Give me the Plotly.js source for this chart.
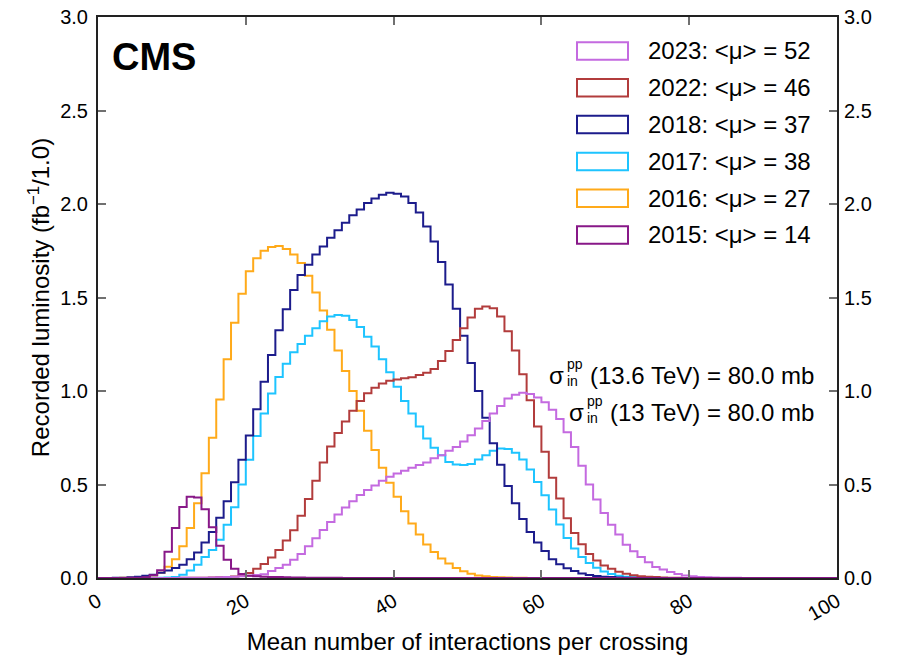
<!DOCTYPE html>
<html>
<head>
<meta charset="utf-8">
<script src="https://cdn.plot.ly/plotly-3.0.1.min.js"></script>
<style>
  html, body { margin: 0; padding: 0; background: #ffffff; }
  #chart { width: 897px; height: 655px; }
</style>
</head>
<body>
<div id="chart"></div>
<script>
// Recorded luminosity (fb^-1) per pileup bin [mu, mu+1), mu = 0 .. 99
const lumi2015 = [
  0, 0, 0, 0.0005, 0.001, 0.002, 0.004, 0.015, 0.042, 0.14,
  0.267, 0.38, 0.434, 0.43, 0.368, 0.272, 0.172, 0.097, 0.05, 0.022,
  0.012, 0.009, 0.007, 0.006, 0.005, 0.004, 0.003, 0.003, 0.002, 0.002,
  0.001, 0.001, 0.001, 0.0005, 0.0005, 0, 0, 0, 0, 0,
  0, 0, 0, 0, 0, 0, 0, 0, 0, 0,
  0, 0, 0, 0, 0, 0, 0, 0, 0, 0,
  0, 0, 0, 0, 0, 0, 0, 0, 0, 0,
  0, 0, 0, 0, 0, 0, 0, 0, 0, 0,
  0, 0, 0, 0, 0, 0, 0, 0, 0, 0,
  0, 0, 0, 0, 0, 0, 0, 0, 0, 0
];
const lumi2016 = [
  0, 0, 0.0005, 0.001, 0.002, 0.004, 0.007, 0.013, 0.028, 0.06,
  0.10, 0.17, 0.267, 0.40, 0.56, 0.75, 0.955, 1.17, 1.365, 1.52,
  1.64, 1.71, 1.75, 1.77, 1.775, 1.76, 1.73, 1.684, 1.616, 1.527,
  1.43, 1.327, 1.216, 1.107, 1.0, 0.895, 0.787, 0.684, 0.59, 0.51,
  0.435, 0.357, 0.291, 0.232, 0.179, 0.139, 0.104, 0.077, 0.054, 0.036,
  0.023, 0.014, 0.009, 0.006, 0.004, 0.003, 0.002, 0.001, 0.0005, 0,
  0, 0, 0, 0, 0, 0, 0, 0, 0, 0,
  0, 0, 0, 0, 0, 0, 0, 0, 0, 0,
  0, 0, 0, 0, 0, 0, 0, 0, 0, 0,
  0, 0, 0, 0, 0, 0, 0, 0, 0, 0
];
const lumi2017 = [
  0, 0, 0, 0, 0, 0, 0, 0.001, 0.002, 0.003,
  0.005, 0.018, 0.04, 0.071, 0.112, 0.15, 0.205, 0.285, 0.378, 0.50,
  0.633, 0.76, 0.88, 0.986, 1.075, 1.146, 1.207, 1.252, 1.295, 1.335,
  1.373, 1.398, 1.407, 1.403, 1.38, 1.342, 1.29, 1.238, 1.17, 1.10,
  1.023, 0.946, 0.88, 0.81, 0.746, 0.696, 0.657, 0.62, 0.607, 0.604,
  0.61, 0.634, 0.657, 0.68, 0.693, 0.69, 0.67, 0.634, 0.58, 0.514,
  0.443, 0.366, 0.286, 0.214, 0.158, 0.112, 0.08, 0.055, 0.035, 0.021,
  0.012, 0.007, 0.004, 0.002, 0.001, 0.0005, 0, 0, 0, 0,
  0, 0, 0, 0, 0, 0, 0, 0, 0, 0,
  0, 0, 0, 0, 0, 0, 0, 0, 0, 0
];
const lumi2018 = [
  0, 0.0005, 0.001, 0.002, 0.004, 0.007, 0.012, 0.018, 0.028, 0.04,
  0.053, 0.071, 0.10, 0.137, 0.19, 0.246, 0.322, 0.41, 0.512, 0.632,
  0.762, 0.903, 1.05, 1.193, 1.325, 1.437, 1.54, 1.62, 1.675, 1.73,
  1.773, 1.82, 1.86, 1.90, 1.94, 1.97, 2.005, 2.03, 2.05, 2.06,
  2.055, 2.04, 2.005, 1.955, 1.88, 1.80, 1.69, 1.57, 1.44, 1.295,
  1.15, 1.00, 0.857, 0.72, 0.605, 0.492, 0.40, 0.316, 0.246, 0.19,
  0.144, 0.10, 0.073, 0.052, 0.037, 0.024, 0.016, 0.011, 0.007, 0.005,
  0.003, 0.002, 0.001, 0.0005, 0, 0, 0, 0, 0, 0,
  0, 0, 0, 0, 0, 0, 0, 0, 0, 0,
  0, 0, 0, 0, 0, 0, 0, 0, 0, 0
];
const lumi2022 = [
  0, 0, 0, 0, 0, 0, 0, 0, 0, 0,
  0.0005, 0.001, 0.001, 0.002, 0.002, 0.003, 0.004, 0.006, 0.008, 0.012,
  0.027, 0.05, 0.075, 0.11, 0.15, 0.20, 0.255, 0.333, 0.423, 0.52,
  0.617, 0.703, 0.775, 0.837, 0.895, 0.946, 0.988, 1.018, 1.04, 1.055,
  1.062, 1.068, 1.073, 1.086, 1.098, 1.118, 1.16, 1.214, 1.273, 1.336,
  1.393, 1.44, 1.452, 1.443, 1.398, 1.32, 1.216, 1.09, 0.95, 0.81,
  0.675, 0.536, 0.425, 0.32, 0.24, 0.18, 0.128, 0.094, 0.067, 0.049,
  0.034, 0.023, 0.015, 0.01, 0.007, 0.005, 0.003, 0.002, 0.001, 0.0005,
  0, 0, 0, 0, 0, 0, 0, 0, 0, 0,
  0, 0, 0, 0, 0, 0, 0, 0, 0, 0
];
const lumi2023 = [
  0, 0, 0, 0, 0, 0, 0, 0, 0, 0,
  0.0005, 0.001, 0.001, 0.002, 0.002, 0.003, 0.004, 0.005, 0.007, 0.009,
  0.012, 0.016, 0.02, 0.038, 0.053, 0.071, 0.098, 0.128, 0.17, 0.213,
  0.257, 0.30, 0.34, 0.377, 0.41, 0.444, 0.47, 0.495, 0.52, 0.541,
  0.559, 0.573, 0.589, 0.604, 0.618, 0.64, 0.657, 0.68, 0.70, 0.73,
  0.764, 0.80, 0.84, 0.88, 0.92, 0.96, 0.98, 0.99, 0.984, 0.965,
  0.94, 0.90, 0.85, 0.78, 0.70, 0.60, 0.50, 0.42, 0.348, 0.285,
  0.232, 0.178, 0.143, 0.112, 0.084, 0.059, 0.045, 0.032, 0.021, 0.014,
  0.009, 0.006, 0.004, 0.003, 0.002, 0.001, 0.001, 0.0005, 0.0005, 0,
  0, 0, 0, 0, 0, 0, 0, 0, 0, 0
];

const seriesYears = ['2023', '2022', '2018', '2017', '2016', '2015'];
const seriesMeanPileup = ['52', '46', '37', '38', '27', '14'];
const seriesColors = ['#c46ae0', '#b23c3c', '#1c1c8c', '#1ec4ff', '#ffaa1a', '#881888'];
const seriesValues = [lumi2023, lumi2022, lumi2018, lumi2017, lumi2016, lumi2015];

const xTickValues = [0, 20, 40, 60, 80, 100];
const yTickValues = [0, 0.5, 1.0, 1.5, 2.0, 2.5, 3.0];

const crossSectionLines = [
  { energy: '(13.6 TeV) = 80.0 mb' },
  { energy: '(13 TeV) = 80.0 mb' }
];

// ---- geometry of the figure ----
const FIG_W = 897, FIG_H = 655;
const MARGIN = { l: 98, r: 60, t: 17, b: 77, pad: 0 };
const PLOT_W = FIG_W - MARGIN.l - MARGIN.r;
const PLOT_H = FIG_H - MARGIN.t - MARGIN.b;
const xPaper = p => (p - MARGIN.l) / PLOT_W;
const yPaper = p => (FIG_H - MARGIN.b - p) / PLOT_H;

const FONT = '"Liberation Sans", Arial, Helvetica, sans-serif';

// step outline of a histogram: bin edges 0..N, last value repeated
function stepTrace(values, color, yaxis) {
  const edges = [];
  for (let i = 0; i <= values.length; i++) edges.push(i);
  const ys = values.concat([values[values.length - 1]]);
  return {
    type: 'scatter', mode: 'lines', x: edges, y: ys,
    line: { shape: 'hv', color: color, width: 2 },
    yaxis: yaxis || 'y', showlegend: false, hoverinfo: 'skip'
  };
}

// draw older years first so the newer ones sit on top
const traces = [];
for (let i = seriesValues.length - 1; i >= 0; i--) {
  traces.push(stepTrace(seriesValues[i], seriesColors[i], i === seriesValues.length - 1 ? 'y2' : 'y'));
}

// text measurement for placing the cross-section labels
const measureCtx = document.createElement('canvas').getContext('2d');
function textWidth(str, size) {
  measureCtx.font = size + 'px "Liberation Sans"';
  return measureCtx.measureText(str).width;
}

const shapes = [];
const annotations = [];

// CMS label
annotations.push({
  xref: 'paper', yref: 'paper', x: xPaper(111), y: yPaper(57),
  xanchor: 'left', yanchor: 'middle', showarrow: false, borderpad: 0,
  text: '<b>CMS</b>', font: { family: FONT, size: 38, color: '#000' }
});

// legend: outlined boxes with labels
const LEG_BOX_X0 = 577, LEG_BOX_X1 = 628, LEG_TEXT_X = 647;
const LEG_ROW0 = 51, LEG_STEP = 36.8, LEG_BOX_H = 17.5;
seriesYears.forEach((yr, i) => {
  const cy = LEG_ROW0 + i * LEG_STEP;
  shapes.push({
    type: 'rect', xref: 'paper', yref: 'paper',
    x0: xPaper(LEG_BOX_X0), x1: xPaper(LEG_BOX_X1),
    y0: yPaper(cy + LEG_BOX_H / 2), y1: yPaper(cy - LEG_BOX_H / 2),
    line: { color: seriesColors[i], width: 2 }, fillcolor: '#ffffff'
  });
  annotations.push({
    xref: 'paper', yref: 'paper', x: xPaper(LEG_TEXT_X), y: yPaper(cy),
    xanchor: 'left', yanchor: 'middle', showarrow: false, borderpad: 0,
    text: yr + ': &lt;μ&gt; = ' + seriesMeanPileup[i],
    font: { family: FONT, size: 24, color: '#000' }
  });
});

// inelastic cross-section labels, right aligned
const XS_RIGHT = 815, XS_ROW0 = 375, XS_STEP = 37;
crossSectionLines.forEach((ln, i) => {
  const cy = XS_ROW0 + i * XS_STEP;
  const w = textWidth(ln.energy, 24);
  const parenLeft = XS_RIGHT - w;
  const scriptLeft = parenLeft - 24;
  annotations.push({
    xref: 'paper', yref: 'paper', x: xPaper(XS_RIGHT), y: yPaper(cy),
    xanchor: 'right', yanchor: 'middle', showarrow: false, borderpad: 0,
    text: ln.energy, font: { family: FONT, size: 24, color: '#000' }
  });
  annotations.push({
    xref: 'paper', yref: 'paper', x: xPaper(scriptLeft - 1), y: yPaper(cy),
    xanchor: 'right', yanchor: 'middle', showarrow: false, borderpad: 0,
    text: 'σ', font: { family: FONT, size: 24, color: '#000' }
  });
  annotations.push({
    xref: 'paper', yref: 'paper', x: xPaper(scriptLeft), y: yPaper(cy - 11),
    xanchor: 'left', yanchor: 'middle', showarrow: false, borderpad: 0,
    text: 'pp', font: { family: FONT, size: 14, color: '#000' }
  });
  annotations.push({
    xref: 'paper', yref: 'paper', x: xPaper(scriptLeft), y: yPaper(cy + 6),
    xanchor: 'left', yanchor: 'middle', showarrow: false, borderpad: 0,
    text: 'in', font: { family: FONT, size: 14, color: '#000' }
  });
});

const axisCommon = {
  showgrid: false, zeroline: false,
  ticks: 'inside', ticklen: 8, tickwidth: 2, tickcolor: '#707070',
  tickfont: { family: FONT, size: 20, color: '#000' }
};

const layout = {
  width: FIG_W, height: FIG_H,
  margin: MARGIN,
  paper_bgcolor: '#ffffff', plot_bgcolor: '#ffffff',
  showlegend: false,
  font: { family: FONT, color: '#000' },
  xaxis: Object.assign({}, axisCommon, {
    range: [0, 100], tickvals: xTickValues, ticktext: xTickValues.map(String),
    tickangle: -30, showline: true, linecolor: '#222', linewidth: 2, mirror: 'ticks',
    ticklabelstandoff: 2,
    title: { text: 'Mean number of interactions per crossing', font: { family: FONT, size: 24, color: '#000' }, standoff: 12 }
  }),
  yaxis: Object.assign({}, axisCommon, {
    range: [0, 3], tickvals: yTickValues, ticktext: yTickValues.map(v => v.toFixed(1)),
    showline: true, linecolor: '#222', linewidth: 2, mirror: true,
    ticklabelstandoff: 4,
    title: { text: 'Recorded luminosity (fb<sup>−1</sup>/1.0)', font: { family: FONT, size: 24, color: '#000' }, standoff: 4 }
  }),
  yaxis2: Object.assign({}, axisCommon, {
    range: [0, 3], tickvals: yTickValues, ticktext: yTickValues.map(v => v.toFixed(1)),
    overlaying: 'y', side: 'right', showline: false, ticklabelstandoff: 6
  }),
  shapes: shapes,
  annotations: annotations
};

Plotly.newPlot('chart', traces, layout, { displayModeBar: false, staticPlot: true });
</script>
</body>
</html>
